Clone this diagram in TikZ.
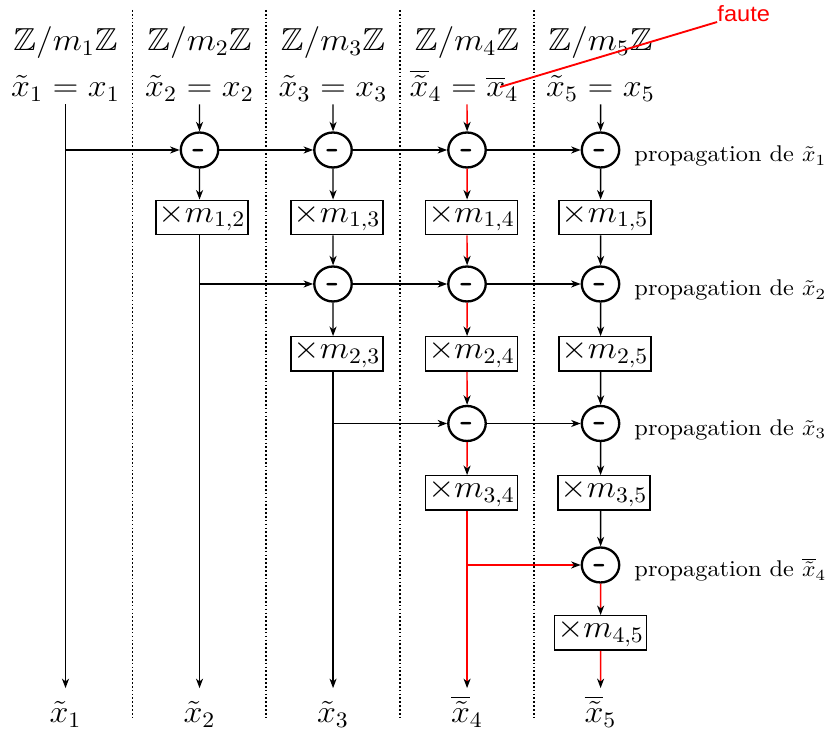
\documentclass[tikz,border=0pt]{standalone}
\usepackage{amssymb}
\usepackage{fontspec}
\newfontfamily\notefont{Liberation Sans}
\usetikzlibrary{arrows.meta}

\begin{document}
\begin{tikzpicture}[x=0.42346pt, y=-0.4531pt, xscale=1.07,
  every node/.style={font=\Large, transform shape},
  link/.style={line width=0.6pt, -{Stealth[length=4.3pt,width=3.2pt,inset=1.3pt,color=black]}},
  op/.style={circle, draw, line width=1.05pt, minimum size=15.85pt, inner sep=0pt,
             text height=7.4pt, text depth=0pt,
             font=\fontsize{15.5}{15.5}\selectfont\sffamily\bfseries},
  mul/.style={draw, line width=0.65pt, minimum width=38.5pt, minimum height=15.6pt,
              inner xsep=1pt, inner ysep=0pt},
  hdr/.style={anchor=base, inner sep=1pt},
  outv/.style={anchor=base, inner sep=0pt, text height=10.4pt, text depth=3pt, outer sep=5.4pt},
  prop/.style={anchor=base west, inner sep=0pt, font=\fontsize{10.3}{12}\selectfont},
  sep/.style={densely dotted, line width=0.75pt}
]
\useasboundingbox (0,0) rectangle (827,736);

% column separators
\draw[sep] (132.5,10) -- (132.5,718);
\draw[sep] (266,10) -- (266,718);
\draw[sep] (400,10) -- (400,718);
\draw[sep] (534,10) -- (534,718);

% column headers
\node[hdr] (m1) at (65.5,51) {$\mathbb{Z}/m_1\mathbb{Z}$};
\node[hdr] (m2) at (199.5,51) {$\mathbb{Z}/m_2\mathbb{Z}$};
\node[hdr] (m3) at (333,51) {$\mathbb{Z}/m_3\mathbb{Z}$};
\node[hdr] (m4) at (467,51) {$\mathbb{Z}/m_4\mathbb{Z}$};
\node[hdr] (m5) at (600.5,51) {$\mathbb{Z}/m_5\mathbb{Z}$};

\node[hdr] (v1) at (65.5,97) {$\tilde{x}_1 = x_1$};
\node[hdr] (v2) at (199.5,97) {$\tilde{x}_2 = x_2$};
\node[hdr] (v3) at (333,97) {$\tilde{x}_3 = x_3$};
\node[hdr] (v4) at (464,97) {$\overline{\tilde{x}}_4 = \overline{x}_4$};
\node[hdr] (v5) at (600.5,97) {$\tilde{x}_5 = x_5$};

% subtraction stages
\node[op] (c12) at (199.5,150) {-};
\node[op] (c13) at (333,150) {-};
\node[op] (c14) at (467,150) {-};
\node[op] (c15) at (600.5,150) {-};
\node[op] (c23) at (333,284) {-};
\node[op] (c24) at (467,284) {-};
\node[op] (c25) at (600.5,284) {-};
\node[op] (c34) at (467,423.5) {-};
\node[op] (c35) at (600.5,423.5) {-};
\node[op] (c45) at (600.5,565) {-};

% multiplication stages
\node[mul] (b12) at (202,217.5) {$\times m_{1,2}$};
\node[mul] (b13) at (337,217.5) {$\times m_{1,3}$};
\node[mul] (b14) at (471.5,217.5) {$\times m_{1,4}$};
\node[mul] (b15) at (605,217.5) {$\times m_{1,5}$};
\node[mul] (b23) at (337,354) {$\times m_{2,3}$};
\node[mul] (b24) at (471.5,354) {$\times m_{2,4}$};
\node[mul] (b25) at (605,354) {$\times m_{2,5}$};
\node[mul] (b34) at (471.5,493) {$\times m_{3,4}$};
\node[mul] (b35) at (604,493) {$\times m_{3,5}$};
\node[mul] (b45) at (600.5,633) {$\times m_{4,5}$};

% outputs
\node[outv] (o1) at (65.5,723) {$\tilde{x}_1$};
\node[outv] (o2) at (199.5,723) {$\tilde{x}_2$};
\node[outv] (o3) at (333,723) {$\tilde{x}_3$};
\node[outv] (o4) at (467,723) {$\overline{\tilde{x}}_4$};
\node[outv] (o5) at (600.5,723) {$\overline{\tilde{x}}_5$};

% row labels
\node[prop] (p1) at (634,162) {propagation de $\tilde{x}_1$};
\node[prop] (p2) at (634,296) {propagation de $\tilde{x}_2$};
\node[prop] (p3) at (634,435.5) {propagation de $\tilde{x}_3$};
\node[prop] (p4) at (634,577) {propagation de $\overline{\tilde{x}}_4$};

% column 1
\draw[link] (v1.south) -- (o1.north);
\draw[link] (c12 -| o1) -- (c12);
\draw[link] (c12) -- (c13);
\draw[link] (c13) -- (c14);
\draw[link] (c14) -- (c15);

% column 2
\draw[link] (v2) -- (c12);
\draw[link] (c12) -- (c12 |- b12.north);
\draw[link] (c12 |- b12.south) -- (o2.north);
\draw[link] (c23 -| o2) -- (c23);
\draw[link] (c23) -- (c24);
\draw[link] (c24) -- (c25);

% column 3
\draw[link] (v3) -- (c13);
\draw[link] (c13) -- (c13 |- b13.north);
\draw[link] (c13 |- b13.south) -- (c23);
\draw[link] (c23) -- (c23 |- b23.north);
\draw[link] (c23 |- b23.south) -- (o3.north);
\draw[link] (c34 -| o3) -- (c34);
\draw[link] (c34) -- (c35);

% column 4: the faulty residue
\draw[link, red] (v4.south -| c14) -- (c14);
\draw[link, red] (c14) -- (c14 |- b14.north);
\draw[link, red] (c14 |- b14.south) -- (c24);
\draw[link, red] (c24) -- (c24 |- b24.north);
\draw[link, red] (c24 |- b24.south) -- (c34);
\draw[link, red] (c34) -- (c34 |- b34.north);
\draw[link, red] (c34 |- b34.south) -- (o4.north);
\draw[link, red] (c45 -| o4) -- (c45);

% column 5
\draw[link] (v5) -- (c15);
\draw[link] (c15) -- (c15 |- b15.north);
\draw[link] (c15 |- b15.south) -- (c25);
\draw[link] (c25) -- (c25 |- b25.north);
\draw[link] (c25 |- b25.south) -- (c35);
\draw[link] (c35) -- (c35 |- b35.north);
\draw[link] (c35 |- b35.south) -- (c45);
\draw[link, red] (c45) -- (b45);
\draw[link, red] (b45) -- (o5.north);

% fault annotation
\node[anchor=base west, inner sep=0pt, text=red, font=\notefont\fontsize{10}{12}\selectfont] (faute) at (717,22) {faute};
\coordinate (err) at (500,87);
\draw[red, line width=0.85pt] (faute.base west) -- (err);
\end{tikzpicture}
\end{document}
